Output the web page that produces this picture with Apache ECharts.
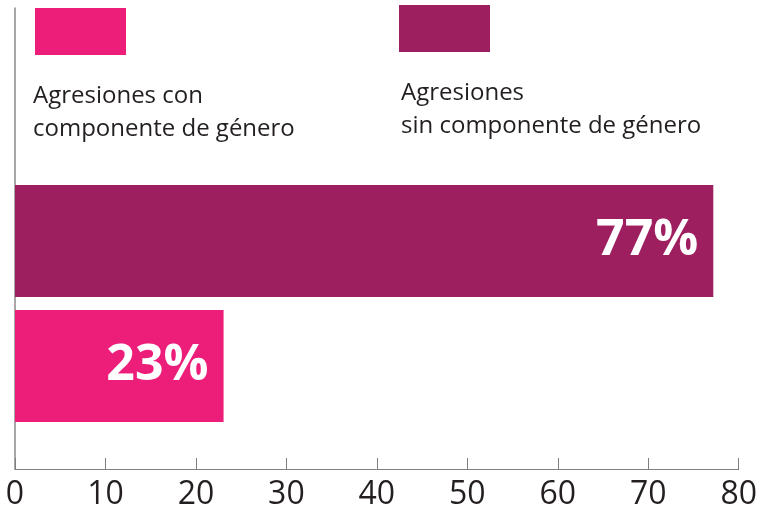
<!DOCTYPE html>
<html>
<head>
<meta charset="utf-8">
<script src="https://cdn.jsdelivr.net/npm/echarts@6/dist/echarts.min.js"></script>
<style>
html,body{margin:0;padding:0;background:#fff;}
#chart{width:760px;height:511px;}
</style>
</head>
<body>
<div id="chart"></div>
<script>
const categories = ['con', 'sin'];
const seriesNames = ['Agresiones con componente de género', 'Agresiones sin componente de género'];
const legendLabels = ['Agresiones con\ncomponente de género', 'Agresiones\nsin componente de género'];
const valuesCon = [23, '-'];
const valuesSin = ['-', 77];
const xTicks = [0, 10, 20, 30, 40, 50, 60, 70, 80];

const PINK = '#ED1E79';
const PURPLE = '#9E1F5F';
const FONT = 'Open Sans';

const labelStyle = {
  show: true,
  position: 'insideRight',
  distance: 15,
  formatter: '{c}%',
  color: '#fff',
  fontSize: 50,
  fontWeight: 'bold',
  fontFamily: FONT
};

const chart = echarts.init(document.getElementById('chart'));
chart.setOption({
  animation: false,
  backgroundColor: '#fff',
  grid: [
    { left: 15, right: 19.5, top: 8, bottom: 38 },
    { left: 15, right: 19.5, top: 178.5, bottom: 82.5 }
  ],
  xAxis: [
    {
      gridIndex: 0, type: 'value', min: xTicks[0], max: xTicks[xTicks.length - 1], interval: 10,
      axisLine: { show: true, lineStyle: { color: '#7f7f7f', width: 1 } },
      axisTick: { show: true, inside: true, length: 11, lineStyle: { color: '#7f7f7f', width: 1 } },
      axisLabel: { show: true, margin: 10, color: '#231F20', fontSize: 32, fontFamily: FONT, showMinLabel: true, showMaxLabel: true },
      splitLine: { show: false }
    },
    { gridIndex: 1, type: 'value', min: xTicks[0], max: xTicks[xTicks.length - 1], show: false }
  ],
  yAxis: [
    {
      gridIndex: 0, type: 'value', min: 0, max: 1,
      axisLine: { show: true, lineStyle: { color: '#8a8a8a', width: 1.5 } },
      axisTick: { show: false }, axisLabel: { show: false }, splitLine: { show: false }
    },
    { gridIndex: 1, type: 'category', data: categories, show: false }
  ],
  legend: [
    {
      data: [seriesNames[0]], left: 35, top: 8, itemWidth: 91, itemHeight: 47, icon: 'rect',
      selectedMode: false, formatter: () => '', padding: 0, itemGap: 0
    },
    {
      data: [seriesNames[1]], left: 399, top: 5, itemWidth: 91, itemHeight: 47, icon: 'rect',
      selectedMode: false, formatter: () => '', padding: 0, itemGap: 0
    }
  ],
  graphic: [
    {
      type: 'text', left: 33, top: 80,
      style: { text: legendLabels[0], font: '24px "Open Sans"', fill: '#231F20', lineHeight: 33 }
    },
    {
      type: 'text', left: 401, top: 77,
      style: { text: legendLabels[1], font: '24px "Open Sans"', fill: '#231F20', lineHeight: 33 }
    }
  ],
  series: [
    {
      name: seriesNames[0], type: 'bar', xAxisIndex: 1, yAxisIndex: 1, data: valuesCon,
      barWidth: 112, barGap: '-100%', itemStyle: { color: PINK }, label: labelStyle
    },
    {
      name: seriesNames[1], type: 'bar', xAxisIndex: 1, yAxisIndex: 1, data: valuesSin,
      barWidth: 112, barGap: '-100%', itemStyle: { color: PURPLE }, label: labelStyle
    }
  ]
});
</script>
</body>
</html>
